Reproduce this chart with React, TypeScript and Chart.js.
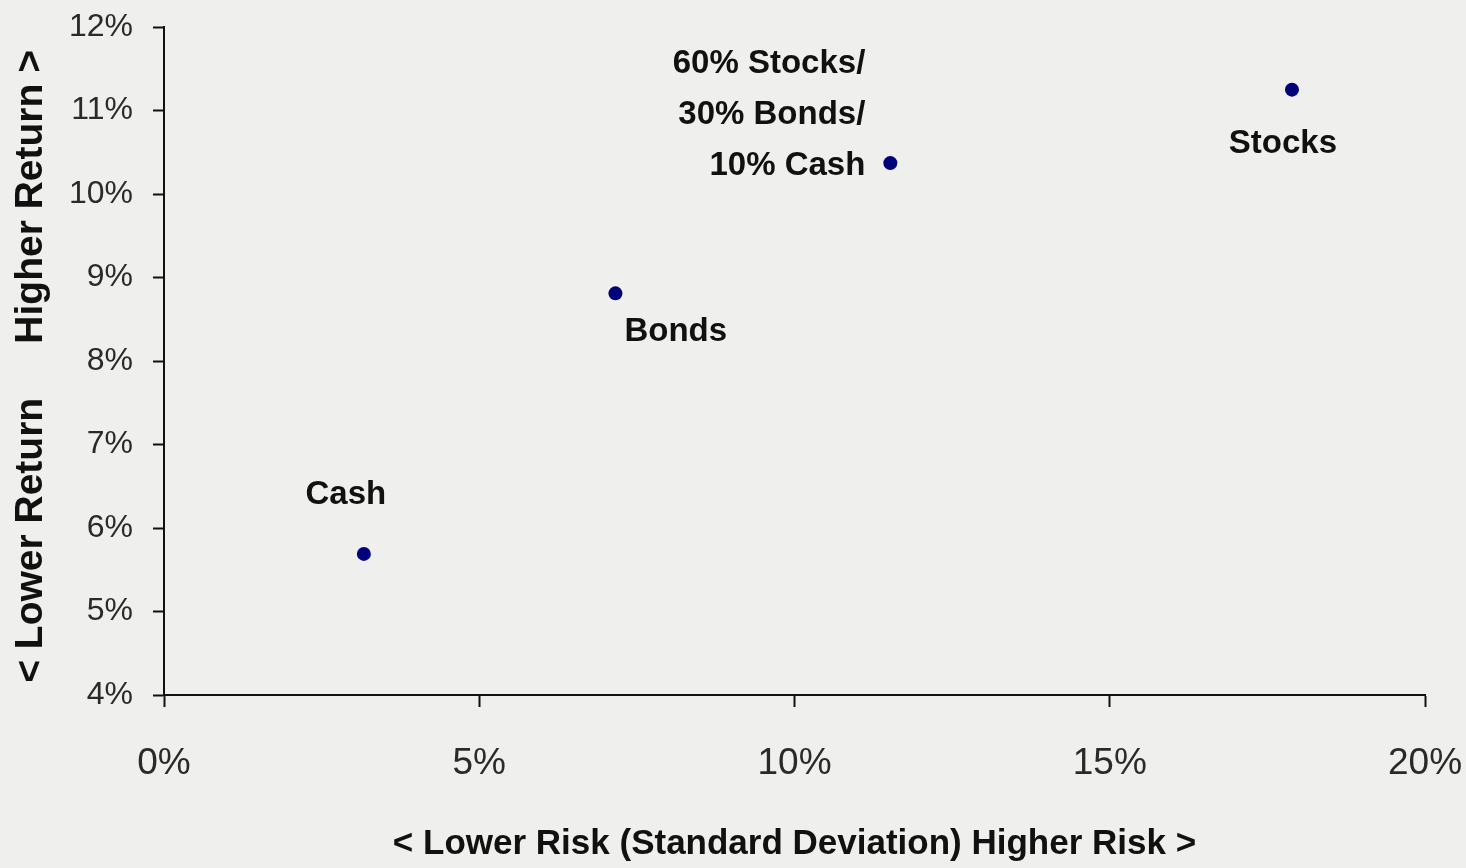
import React, { useEffect, useRef } from "react";
import { Chart, registerables } from "chart.js";

Chart.register(...registerables);

// Data (percent)
const assetNames = ["Cash", "Bonds", "60% Stocks/\n30% Bonds/\n10% Cash", "Stocks"];
const riskValues = [3.17, 7.16, 11.52, 17.89];
const returnValues = [5.69, 8.81, 10.37, 11.25];
const xTickStep = 5;
const yTickStep = 1;
const xRange = [0, 20];
const yRange = [4, 12];
const xTitle = "< Lower Risk (Standard Deviation) Higher Risk >";
const yTitle = "< Lower Return     Higher Return > ";

// label placement styles (relative to each point)
const labelStyles = [
  { dx: -18, dy: -59, align: "center" },
  { dx: 9, dy: 39, align: "left" },
  { dx: -25, dy: 3, align: "right" },
  { dx: -9, dy: 54, align: "center" },
];

const pointLabelPlugin = {
  id: "pointLabels",
  afterDatasetsDraw(chart: any) {
    const ctx = chart.ctx;
    const meta = chart.getDatasetMeta(0);
    ctx.save();
    ctx.font = "bold 33px 'Liberation Sans', Arial, sans-serif";
    ctx.fillStyle = "#111111";
    ctx.textBaseline = "middle";
    meta.data.forEach((pt: any, i: number) => {
      const st = labelStyles[i];
      const lines = assetNames[i].split("\n");
      ctx.textAlign = st.align;
      const lh = 51;
      lines.forEach((line, j) => {
        const y = pt.y + st.dy - (lines.length - 1 - j) * lh;
        ctx.fillText(line, pt.x + st.dx, y);
      });
    });
    ctx.restore();
  },
};

export default function App() {
  const ref = useRef<HTMLCanvasElement>(null);
  useEffect(() => {
    if (!ref.current) return;
    const chart = new Chart(ref.current, {
      type: "scatter",
      data: {
        datasets: [
          {
            data: riskValues.map((x, i) => ({ x, y: returnValues[i] })),
            backgroundColor: "#00007a",
            borderWidth: 0,
            pointRadius: 7,
            pointHoverRadius: 7,
          },
        ],
      },
      options: {
        responsive: false,
        animation: false,
        devicePixelRatio: 1,
        layout: { padding: { top: 27, right: 41, left: 0, bottom: 0 } },
        plugins: { legend: { display: false }, tooltip: { enabled: false } },
        scales: {
          x: {
            type: "linear",
            min: xRange[0],
            max: xRange[1],
            afterFit: (s: any) => {
              s.height = 173;
              s.paddingLeft = 0;
              s.paddingRight = 0;
            },
            ticks: {
              stepSize: xTickStep,
              callback: (v: any) => v + "%",
              font: { family: "'Liberation Sans', Arial, sans-serif", size: 37 },
              color: "#2a2a2a",
              padding: 35,
              maxRotation: 0,
            },
            grid: {
              drawOnChartArea: false,
              drawTicks: true,
              tickLength: 12,
              tickColor: "#111",
              tickWidth: 2,
            },
            border: { color: "#111", width: 2 },
            title: {
              display: true,
              text: xTitle,
              font: { family: "'Liberation Sans', Arial, sans-serif", size: 35, weight: "bold" },
              color: "#111",
              padding: { top: 0, bottom: 3 },
            },
          },
          y: {
            type: "linear",
            min: yRange[0],
            max: yRange[1],
            afterFit: (s: any) => {
              s.width = 164;
              s.paddingTop = 0;
              s.paddingBottom = 0;
            },
            ticks: {
              stepSize: yTickStep,
              callback: (v: any) => v + "%",
              font: { family: "'Liberation Sans', Arial, sans-serif", size: 32 },
              color: "#2a2a2a",
              padding: 20,
            },
            grid: {
              drawOnChartArea: false,
              drawTicks: true,
              tickLength: 11,
              tickColor: "#111",
              tickWidth: 2,
            },
            border: { color: "#111", width: 2 },
            title: {
              display: true,
              text: yTitle,
              font: { family: "'Liberation Sans', Arial, sans-serif", size: 39, weight: "bold" },
              color: "#111",
              padding: { top: 8, bottom: 0 },
            },
          },
        },
      },
      plugins: [pointLabelPlugin],
    } as any);
    return () => chart.destroy();
  }, []);

  return (
    <div
      style={{
        position: "fixed",
        top: 0,
        left: 0,
        width: 1466,
        height: 868,
        background: "#efefed",
      }}
    >
      <canvas ref={ref} width={1466} height={868} style={{ display: "block" }} />
    </div>
  );
}
